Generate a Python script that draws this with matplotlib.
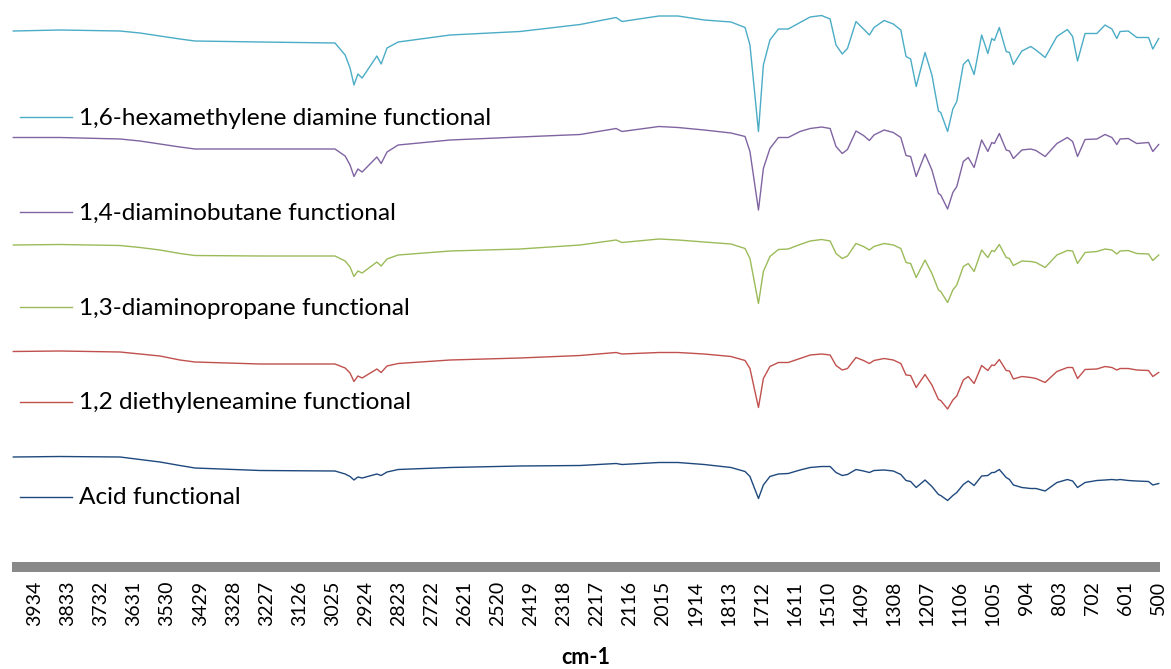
"""
Widma FTIR - porownanie funkcjonalizacji
"""
import matplotlib
matplotlib.use('Agg')
import matplotlib.pyplot as plt
from matplotlib.lines import Line2D

plt.rcParams['font.family'] = ['Lato', 'DejaVu Sans']

# liczba falowa (cm-1), wspolna dla wszystkich widm
wavenumber = [4000, 3857, 3674, 3613, 3552, 3491, 3445, 3246, 3017, 2986,
              2971, 2959, 2947, 2934, 2889, 2876, 2858, 2824, 2665, 2452,
              2268, 2158, 2140, 2027, 1969, 1889, 1807, 1764, 1749, 1723,
              1708, 1688, 1662, 1632, 1596, 1565, 1530, 1504, 1486, 1467,
              1451, 1425, 1402, 1384, 1370, 1339, 1311, 1288, 1272, 1258,
              1241, 1214, 1193, 1173, 1166, 1145, 1129, 1117, 1097, 1082,
              1064, 1041, 1022, 1010, 1002, 987, 966, 956, 944, 918,
              891, 875, 847, 811, 779, 763, 748, 725, 689, 664,
              643, 628, 618, 593, 567, 531, 518, 500]

# widma przesuniete w pionie (j.u.)
hexamethylene = [107.2, 107.4, 107.2, 106.8, 106.2, 105.6, 105.2, 105.0, 104.8, 102.4,
                 99.8, 96.4, 98.6, 97.8, 102.2, 100.6, 103.8, 105.0, 106.4, 107.1,
                 108.5, 109.9, 109.1, 110.2, 110.2, 109.4, 109.0, 107.9, 104.4, 87.1,
                 100.4, 105.4, 107.6, 107.6, 108.9, 110.0, 110.3, 109.6, 104.4, 102.6,
                 103.7, 109.1, 107.6, 106.4, 107.9, 109.3, 108.6, 107.4, 102.1, 101.6,
                 96.1, 102.9, 98.4, 91.2, 90.9, 87.1, 91.6, 93.1, 100.5, 101.5,
                 98.5, 106.4, 102.7, 105.7, 105.3, 107.9, 103.1, 102.9, 100.5, 103.2,
                 104.1, 103.4, 101.9, 106.1, 107.5, 106.1, 101.2, 106.7, 106.7, 108.4,
                 107.6, 105.7, 107.1, 107.2, 105.9, 105.9, 103.6, 105.7]

diaminobutane = [85.9, 85.9, 85.6, 85.2, 84.6, 84.0, 83.6, 83.6, 83.6, 82.2,
                 80.4, 78.1, 79.6, 79.0, 82.0, 80.7, 83.0, 84.4, 85.4, 86.0,
                 86.5, 87.7, 87.1, 88.1, 87.9, 87.4, 86.8, 86.1, 83.1, 71.4,
                 79.7, 83.7, 85.9, 85.9, 87.1, 87.7, 88.0, 87.7, 84.1, 82.7,
                 83.5, 87.2, 86.3, 85.3, 86.4, 87.4, 86.9, 85.9, 82.3, 82.1,
                 78.1, 82.6, 79.4, 74.7, 74.4, 71.6, 74.9, 76.1, 81.1, 81.9,
                 79.9, 85.4, 83.1, 84.9, 84.7, 86.7, 83.4, 83.2, 81.7, 83.4,
                 83.6, 83.3, 82.1, 84.7, 85.9, 85.1, 82.1, 85.5, 85.6, 86.5,
                 85.9, 84.5, 85.6, 85.7, 84.7, 84.9, 83.1, 84.5]

diaminopropane = [64.4, 64.5, 64.3, 63.9, 63.4, 62.7, 62.3, 62.2, 62.2, 61.2,
                  60.0, 58.1, 59.2, 58.8, 61.0, 60.2, 61.6, 62.4, 63.2, 63.6,
                  64.4, 65.4, 64.9, 65.6, 65.4, 65.0, 64.6, 63.7, 61.7, 52.7,
                  59.1, 62.1, 63.5, 63.6, 64.5, 65.2, 65.5, 65.2, 62.7, 61.7,
                  62.2, 64.7, 64.1, 63.4, 64.1, 64.7, 64.4, 63.7, 60.9, 60.7,
                  57.9, 61.4, 58.7, 55.4, 55.1, 52.9, 55.4, 56.4, 60.1, 60.7,
                  59.1, 63.4, 61.9, 63.3, 63.1, 64.5, 61.9, 61.7, 60.3, 61.2,
                  61.1, 60.9, 59.9, 62.4, 63.3, 63.2, 60.7, 62.9, 63.1, 63.6,
                  63.4, 62.6, 63.2, 63.3, 62.7, 62.6, 61.3, 62.4]

diethyleneamine = [43.1, 43.2, 43.0, 42.6, 42.2, 41.4, 41.0, 40.6, 40.6, 39.8,
                   38.8, 37.1, 38.2, 37.8, 39.6, 38.9, 40.2, 40.7, 41.4, 41.8,
                   42.3, 42.9, 42.6, 42.9, 42.9, 42.6, 42.1, 41.3, 39.7, 31.9,
                   37.7, 40.1, 40.9, 40.9, 41.7, 42.4, 42.6, 42.4, 40.3, 39.4,
                   39.7, 41.9, 41.3, 40.7, 41.3, 41.7, 41.4, 40.7, 38.4, 38.3,
                   35.9, 38.5, 36.4, 33.5, 33.3, 31.6, 33.4, 34.2, 37.4, 38.1,
                   36.7, 40.3, 39.3, 40.4, 40.3, 41.5, 39.3, 39.2, 37.6, 38.1,
                   37.9, 37.7, 36.9, 39.1, 39.9, 39.9, 37.7, 39.5, 39.6, 40.1,
                   39.9, 39.4, 39.7, 39.7, 39.4, 39.3, 38.1, 38.9]

acid = [22.0, 22.1, 22.0, 21.5, 21.0, 20.3, 19.8, 19.3, 19.2, 18.6,
        18.1, 17.4, 18.0, 17.8, 18.6, 18.3, 19.0, 19.5, 19.9, 20.2,
        20.3, 20.7, 20.5, 20.9, 20.9, 20.5, 19.9, 19.1, 18.1, 13.7,
        16.4, 18.1, 18.6, 18.7, 19.4, 19.9, 20.1, 20.1, 18.9, 18.3,
        18.5, 19.5, 19.2, 18.9, 19.3, 19.4, 19.2, 18.5, 17.3, 17.1,
        15.9, 17.4, 16.1, 14.5, 14.3, 13.3, 14.3, 14.9, 16.5, 17.2,
        16.3, 18.2, 18.3, 18.9, 18.9, 19.5, 17.9, 17.5, 16.4, 15.9,
        15.7, 15.7, 15.2, 16.9, 17.5, 17.2, 15.9, 16.9, 17.3, 17.4,
        17.5, 17.4, 17.5, 17.3, 17.2, 17.1, 16.4, 16.7]

labels = ['1,6-hexamethylene diamine functional',
          '1,4-diaminobutane functional',
          '1,3-diaminopropane functional',
          '1,2 diethyleneamine functional',
          'Acid functional']
colors = ['#4BACC6', '#8064A2', '#9BBB59', '#C0504D', '#1F497D']
spectra = [hexamethylene, diaminobutane, diaminopropane, diethyleneamine, acid]

tick_labels = list(range(500, 3935, 101))

W, H = 1171, 669
fig = plt.figure(figsize=(W / 100, H / 100), dpi=100)
ax = fig.add_axes([12 / W, 102 / H, 1148 / W, 567 / H])

for values, color in zip(spectra, colors):
    ax.plot(wavenumber, values, color=color, lw=1.0)

ax.set_xlim(4004, 496)
ax.set_ylim(0, 113.4)
ax.set_xticks(tick_labels)
ax.set_xticklabels([str(t) for t in tick_labels], rotation=90)
ax.tick_params(axis='x', length=0, pad=10, labelsize=14)
ax.set_yticks([])
for side in ['top', 'right', 'left']:
    ax.spines[side].set_visible(False)
ax.spines['bottom'].set_linewidth(7.2)
ax.spines['bottom'].set_color('#898989')
ax.spines['bottom'].set_capstyle('butt')
ax.set_xlabel('cm-1', fontsize=15.5, fontweight='bold', labelpad=15)

# legenda po lewej, wpis przy kazdym widmie
for i, (label, color) in enumerate(zip(labels, colors)):
    y = 1 - (117 + 95 * i) / H
    fig.add_artist(Line2D([20 / W, 72 / W], [y, y], color=color, lw=1.0))
    fig.text(79 / W, y - 7.5 / H, label, fontsize=17.6, ha='left', va='baseline')

fig.savefig('out.png', dpi=100)
